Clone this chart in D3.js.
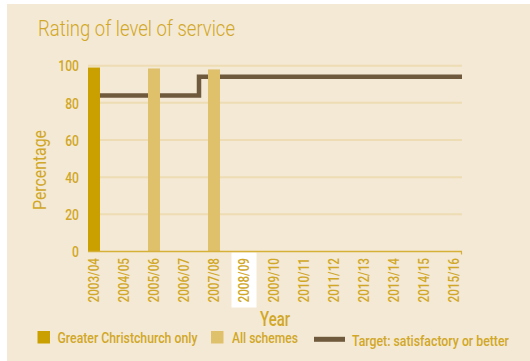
<!DOCTYPE html>
<html>
<head>
<meta charset="utf-8">
<script src="https://cdn.jsdelivr.net/npm/d3@7"></script>
<style>
  html, body { margin: 0; padding: 0; background: #ffffff; }
  svg { display: block; }
  text { font-family: "Liberation Sans Narrow", "Arial Narrow", "Roboto", sans-serif; }
</style>
</head>
<body>
<svg id="chart" width="530" height="361"></svg>
<script>
// Financial years shown on the x axis
const years = ["2003/04", "2004/05", "2005/06", "2006/07", "2007/08", "2008/09",
  "2009/10", "2010/11", "2011/12", "2012/13", "2013/14", "2014/15", "2015/16"];

// Survey results (% rating service satisfactory or better)
const christchurchOnly = [{ year: "2003/04", value: 99 }];
const allSchemes = [{ year: "2005/06", value: 98.5 }, { year: "2007/08", value: 98 }];

// Target level by year
const targetValues = [84, 84, 84, 84, 94, 94, 94, 94, 94, 94, 94, 94, 94];

const yTicks = [0, 20, 40, 60, 80, 100];
const highlightYear = "2008/09";

const colors = {
  panel: "#f4e9d4",
  text: "#d1a727",
  grid: "#eedcb4",
  axis: "#d6b13a",
  christchurch: "#c9a000",
  schemes: "#dfc16c",
  target: "#6f5a3e"
};

// Squeeze rotated text into a set length (condensed look)
function narrow(sel, width) {
  sel.attr("textLength", width).attr("lengthAdjust", "spacingAndGlyphs");
  return sel;
}

// Condense horizontal text by scaling it around its anchor point
function squeeze(sel, width) {
  sel.each(function () {
    const t = d3.select(this);
    const ax = +t.attr("x") || 0, ay = +t.attr("y") || 0;
    const natural = this.getComputedTextLength();
    const s = width / natural;
    t.attr("x", 0).attr("y", 0)
      .attr("transform", `translate(${ax},${ay}) scale(${s},1)`);
  });
  return sel;
}

const svg = d3.select("#chart");

// Panel background
svg.append("rect")
  .attr("x", 7).attr("y", 4).attr("width", 523).attr("height", 357)
  .attr("fill", colors.panel);

// Title
svg.append("text")
  .attr("x", 38).attr("y", 36)
  .attr("fill", colors.text)
  .attr("font-size", 22)
  .attr("font-weight", 300)
  .text("Rating of level of service")
  .call(squeeze, 197);

const plot = { left: 88, right: 462, top: 65.7, bottom: 251.5 };

const x = d3.scaleBand()
  .domain(years)
  .range([79, 469])
  .padding(0);
const barWidth = 12;
const xc = d => x(d) + x.bandwidth() / 2;

const y = d3.scaleLinear().domain([0, 100]).range([plot.bottom, plot.top]);

// Horizontal gridlines
svg.append("g")
  .selectAll("line")
  .data(yTicks.filter(t => t > 0))
  .join("line")
  .attr("x1", plot.left).attr("x2", plot.right)
  .attr("y1", d => y(d)).attr("y2", d => y(d))
  .attr("stroke", colors.grid)
  .attr("stroke-width", 2);

// Y axis labels
const yAxis = d3.axisLeft(y).tickValues(yTicks).tickSize(0).tickPadding(0);
const gy = svg.append("g")
  .attr("transform", `translate(79,0)`)
  .call(yAxis);
gy.select(".domain").remove();
gy.selectAll("text")
  .attr("fill", colors.text)
  .attr("font-size", 15)
  .attr("font-weight", 500)
  .attr("dy", "0.35em")
  .each(function (d) {
    narrow(d3.select(this), String(d).length * 6.9);
  });

// Y axis title
svg.append("text")
  .attr("transform", `translate(46,170) rotate(-90)`)
  .attr("text-anchor", "middle")
  .attr("fill", colors.text)
  .attr("font-size", 19)
  .text("Percentage")
  .call(narrow, 80);

// Highlight box behind one year label
svg.append("rect")
  .attr("x", xc(highlightYear) - 12.5)
  .attr("y", plot.bottom + 1)
  .attr("width", 25)
  .attr("height", 55)
  .attr("fill", "#ffffff");

// Target line (step), clipped to the plot area
svg.append("clipPath").attr("id", "plotClip")
  .append("rect")
  .attr("x", plot.left).attr("y", plot.top - 10)
  .attr("width", plot.right - plot.left)
  .attr("height", plot.bottom - plot.top + 10);

const targetPoints = years.map((yr, i) => [x(yr), targetValues[i]]);
targetPoints.push([x(years[years.length - 1]) + x.bandwidth(), targetValues[targetValues.length - 1]]);

svg.append("path")
  .datum(targetPoints)
  .attr("clip-path", "url(#plotClip)")
  .attr("fill", "none")
  .attr("stroke", colors.target)
  .attr("stroke-width", 4.5)
  .attr("d", d3.line()
    .x(d => d[0])
    .y(d => y(d[1]))
    .curve(d3.curveStepAfter));

// Bars
svg.append("g")
  .selectAll("rect")
  .data(christchurchOnly)
  .join("rect")
  .attr("x", d => xc(d.year) - barWidth / 2)
  .attr("y", d => y(d.value))
  .attr("width", barWidth)
  .attr("height", d => y(0) - y(d.value))
  .attr("fill", colors.christchurch);

svg.append("g")
  .selectAll("rect")
  .data(allSchemes)
  .join("rect")
  .attr("x", d => xc(d.year) - barWidth / 2)
  .attr("y", d => y(d.value))
  .attr("width", barWidth)
  .attr("height", d => y(0) - y(d.value))
  .attr("fill", colors.schemes);

// X axis
const xAxis = d3.axisBottom(x).tickSize(0).tickPadding(0);
const gx = svg.append("g")
  .attr("transform", `translate(0,${plot.bottom})`)
  .call(xAxis);
gx.select(".domain").remove();
gx.selectAll("text")
  .attr("fill", colors.text)
  .attr("font-size", 14)
  .attr("font-weight", 500)
  .attr("text-anchor", "end")
  .attr("transform", "rotate(-90)")
  .attr("x", -6.5)
  .attr("y", 0)
  .attr("dy", "0.35em")
  .call(narrow, 44.5);

svg.append("line")
  .attr("x1", plot.left).attr("x2", plot.right)
  .attr("y1", plot.bottom).attr("y2", plot.bottom)
  .attr("stroke", colors.axis)
  .attr("stroke-width", 1.6);
svg.append("line")
  .attr("x1", plot.right - 0.5).attr("x2", plot.right - 0.5)
  .attr("y1", plot.bottom).attr("y2", plot.bottom + 3)
  .attr("stroke", colors.axis)
  .attr("stroke-width", 1.2);

// X axis title
svg.append("text")
  .attr("x", (plot.left + plot.right) / 2)
  .attr("y", 325.5)
  .attr("text-anchor", "middle")
  .attr("fill", colors.text)
  .attr("font-size", 21)
  .attr("font-weight", 500)
  .text("Year")
  .call(squeeze, 30);

// Legend
const legend = svg.append("g").attr("font-size", 15.5).attr("font-weight", 500).attr("fill", colors.text);
legend.append("rect").attr("x", 37.5).attr("y", 331).attr("width", 12.5).attr("height", 12.5)
  .attr("fill", colors.christchurch);
legend.append("text").attr("x", 57.5).attr("y", 343).text("Greater Christchurch only").call(squeeze, 140);
legend.append("rect").attr("x", 211).attr("y", 331).attr("width", 12.5).attr("height", 12.5)
  .attr("fill", colors.schemes);
legend.append("text").attr("x", 232).attr("y", 343).text("All schemes").call(squeeze, 66);
legend.append("line").attr("x1", 314).attr("x2", 345).attr("y1", 339.3).attr("y2", 339.3)
  .attr("stroke", colors.target).attr("stroke-width", 5);
legend.append("text").attr("x", 352).attr("y", 345.5).text("Target: satisfactory or better").call(squeeze, 157);
</script>
</body>
</html>
